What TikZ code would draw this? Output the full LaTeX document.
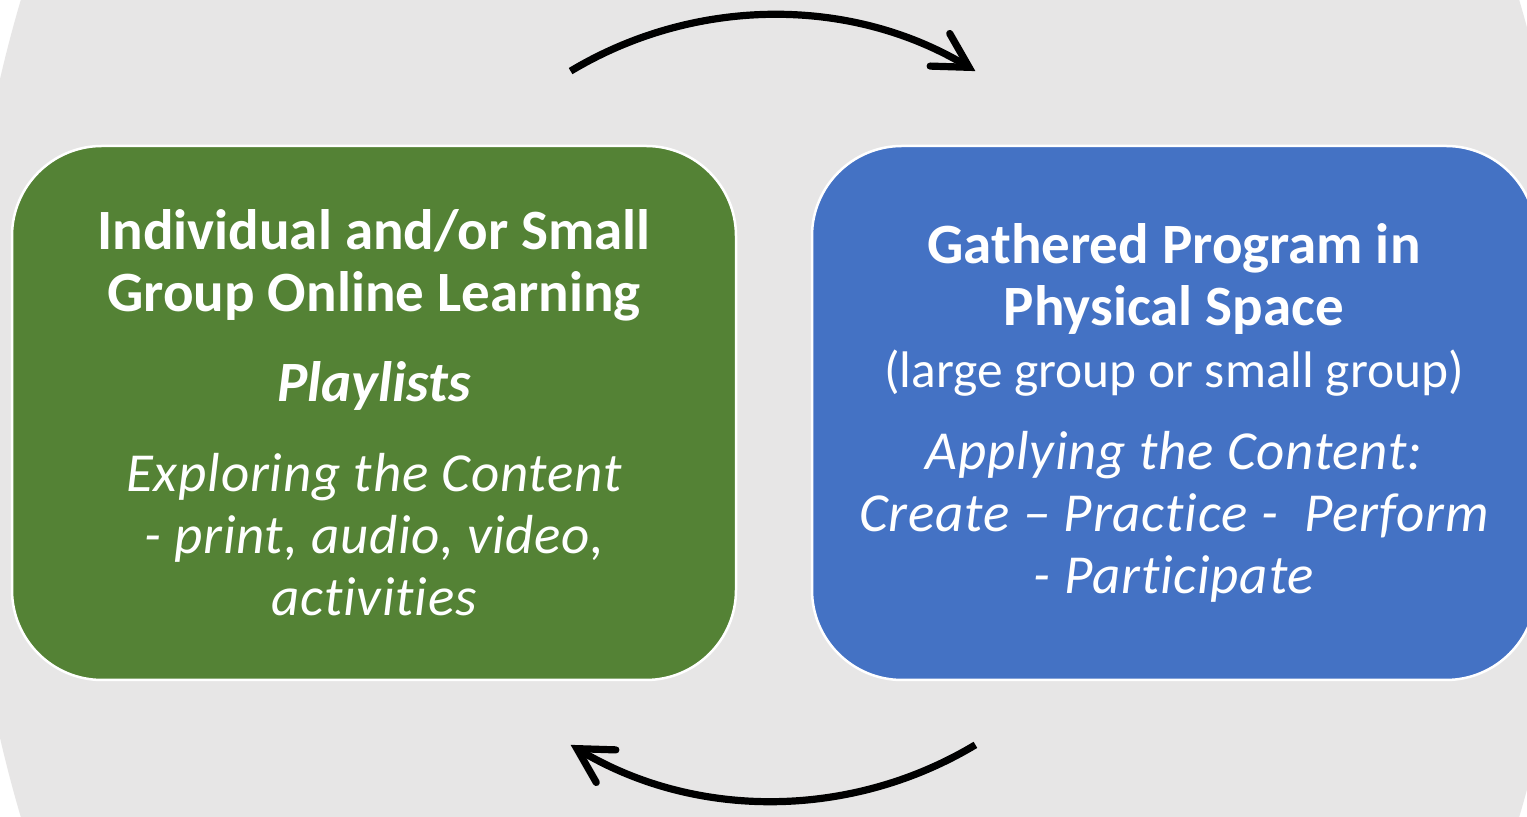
\documentclass[tikz,border=0pt]{standalone}
\usepackage{fontspec}
\setmainfont{Carlito}
\newfontfamily\itemfont[LetterSpace=1.5,Ligatures=NoCommon]{Carlito}
\usetikzlibrary{arrows.meta}
\definecolor{cyclegray}{HTML}{E7E6E6}
\definecolor{onlinegreen}{HTML}{548235}
\definecolor{gatheredblue}{HTML}{4472C4}
\begin{document}
\begin{tikzpicture}[x=0.5pt,y=0.5pt,
    stagebox/.style={draw=white,line width=1.25pt,rounded corners=45pt,minimum width=362pt,minimum height=267pt,text=white,align=center,inner sep=0pt,font=\fontsize{28.5pt}{31pt}\selectfont},
    cyclearrow/.style={line width=3.6pt,-{Straight Barb[length=17pt,width=19pt,line cap=round]}}]
    \pgfmathsetmacro{\arcradius}{196.5}
    \providecommand{\plainfontsize}{\fontsize{25.7pt}{31pt}\selectfont}
    \providecommand{\itemfontsize}{\fontsize{27.5pt}{31pt}\selectfont}
    \useasboundingbox (0,0) rectangle (1527,817);
    \clip (0,0) rectangle (1527,817);
    \fill[white] (0,0) rectangle (1527,817);
    \fill[cyclegray] (770,408.5) ellipse[x radius=403.5pt,y radius=548.5pt];
    \coordinate (hub) at (773,409);
    \node[stagebox,fill=onlinegreen] (online) at (374,404)
    {
    \bfseries Individual and/or Small\\
    \bfseries Group Online Learning\\[14pt]
    \bfseries\itshape Playlists\\[14pt]
    \itemfont\itemfontsize\itshape Exploring the Content\\
    \itemfont\itemfontsize\itshape - print, audio, video,\\
    \itemfont\itemfontsize\itshape activities
    };
    \node[stagebox,fill=gatheredblue] (gathered) at (1174,404)
    {
    \bfseries Gathered Program in\\
    \bfseries Physical Space\\
    \plainfontsize (large group or small group)\\[10pt]
    \itemfont\itemfontsize\itshape Applying the Content:\\
    \itemfont\itemfontsize\itshape Create – Practice - \ Perform\\
    \itemfont\itemfontsize\itshape - Participate
    };
    \draw[cyclearrow] ([shift={(121:\arcradius pt)}]hub) arc[start angle=121,end angle=59,radius=\arcradius pt];
    \draw[cyclearrow] ([shift={(-59:\arcradius pt)}]hub) arc[start angle=-59,end angle=-121,radius=\arcradius pt];
\end{tikzpicture}
\end{document}
